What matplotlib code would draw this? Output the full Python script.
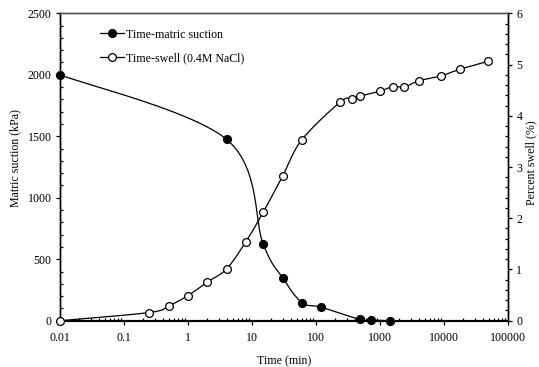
import numpy as np
import matplotlib
matplotlib.use("Agg")
import matplotlib.pyplot as plt
from matplotlib.ticker import FixedLocator, FixedFormatter, MultipleLocator, LogLocator, NullFormatter
from matplotlib.lines import Line2D

# ---- data ----
suction_time = [0.01, 4, 15, 30, 60, 120, 480, 720, 1440]
suction_kpa = [2000, 1475, 620, 350, 148, 110, 10, 5, 0]

swell_time = [0.01, 0.25, 0.5, 1, 2, 4, 8, 15, 30, 60, 240, 360, 480, 1000,
              1600, 2400, 4000, 9000, 18000, 48000]
swell_pct = [0.0, 0.16, 0.29, 0.49, 0.755, 1.01, 1.54, 2.12, 2.82, 3.53, 4.27,
             4.33, 4.38, 4.48, 4.57, 4.56, 4.68, 4.78, 4.91, 5.06]

x_ticks = [0.01, 0.1, 1, 10, 100, 1000, 10000, 100000]
x_tick_labels = ["0.01", "0.1", "1", "10", "100", "1000", "10000", "100000"]

label_suction = "Time-matric suction"
label_swell = "Time-swell (0.4M NaCl)"
xlabel = "Time (min)"
ylabel_left = "Matric suction (kPa)"
ylabel_right = "Percent swell (%)"


def smooth(xs, ys, n=40):
    """Catmull-Rom smoothing in log10(x) space (Excel-like smoothed line)."""
    lx = np.log10(np.asarray(xs, float))
    y = np.asarray(ys, float)
    P = np.column_stack([lx, y])
    out = []
    for i in range(len(P) - 1):
        p0 = P[i - 1] if i > 0 else P[i]
        p1 = P[i]
        p2 = P[i + 1]
        p3 = P[i + 2] if i + 2 < len(P) else P[i + 1]
        c1 = p1 + (p2 - p0) / 6.0
        c2 = p2 - (p3 - p1) / 6.0
        t = np.linspace(0, 1, n)[:, None]
        seg = ((1 - t) ** 3) * p1 + 3 * ((1 - t) ** 2) * t * c1 + 3 * (1 - t) * t ** 2 * c2 + t ** 3 * p2
        out.append(seg if i == 0 else seg[1:])
    out = np.vstack(out)
    return 10 ** out[:, 0], out[:, 1]


plt.rcParams['font.family'] = ['Liberation Serif', 'DejaVu Serif']
FS = 8.6
plt.rcParams['font.size'] = FS
MS = 5.6

fig = plt.figure(figsize=(5.39, 3.67), dpi=100)
ax = fig.add_axes([60 / 539, 1 - 320.7 / 367, 448 / 539, 307.4 / 367])
ax2 = ax.twinx()

sx, sy = smooth(suction_time, suction_kpa)
ax.plot(sx, sy, color='black', lw=0.9, zorder=2)
ax.plot(suction_time, suction_kpa, 'o', color='black', ms=MS, zorder=3, clip_on=False)

wx, wy = smooth(swell_time, swell_pct)
ax2.plot(wx, wy, color='black', lw=0.9, zorder=2)
ax2.plot(swell_time, swell_pct, 'o', mfc='white', mec='black', mew=0.9, ms=MS,
         zorder=3, clip_on=False)

ax.set_xscale('log')
ax.set_xlim(0.01, 100000)
ax.set_ylim(0, 2500)
ax2.set_ylim(0, 6)

ax.xaxis.set_major_locator(FixedLocator(x_ticks))
ax.xaxis.set_major_formatter(FixedFormatter(x_tick_labels))
ax.xaxis.set_minor_locator(LogLocator(base=10, subs=np.arange(2, 10), numticks=20))
ax.xaxis.set_minor_formatter(NullFormatter())
ax.yaxis.set_major_locator(MultipleLocator(500))
ax.yaxis.set_minor_locator(MultipleLocator(100))
ax2.yaxis.set_major_locator(MultipleLocator(1))
ax2.yaxis.set_minor_locator(MultipleLocator(0.2))

for a in (ax, ax2):
    a.tick_params(which='major', direction='out', length=3, width=0.9, pad=3, labelsize=FS)
    a.tick_params(which='minor', direction='in', length=2.5, width=0.9)
ax.tick_params(axis='x', which='major', pad=5)
ax.tick_params(axis='x', which='both', top=False)
ax2.tick_params(axis='x', which='both', top=False, bottom=False)

for a in (ax, ax2):
    a.spines['top'].set_color('#555555')
    a.spines['top'].set_linewidth(1.0)
    a.spines['left'].set_linewidth(1.0)
    a.spines['right'].set_linewidth(1.0)
    a.spines['bottom'].set_linewidth(1.5)

ax.set_xlabel(xlabel, labelpad=8, fontsize=FS)
ax.set_ylabel(ylabel_left, fontsize=FS, va='center')
ax2.set_ylabel(ylabel_right, fontsize=FS, va='center')
ax.yaxis.set_label_coords((15 - 60) / 448, (320.7 - 158) / 307.4)
ax2.yaxis.set_label_coords((531.5 - 60) / 448, (320.7 - 162.5) / 307.4)

handles = [
    Line2D([], [], color='black', lw=0.9, marker='o', ms=MS, mfc='black', mec='black'),
    Line2D([], [], color='black', lw=0.9, marker='o', ms=MS, mfc='white', mec='black', mew=0.9),
]
ax2.legend(handles, [label_suction, label_swell], loc='upper left',
           bbox_to_anchor=(100 / 539, 1 - 28.5 / 367), bbox_transform=fig.transFigure,
           frameon=False, borderpad=0, borderaxespad=0, handlelength=2.0,
           handletextpad=0.2, labelspacing=1.0, fontsize=FS)

fig.savefig('out.png', dpi=100)
